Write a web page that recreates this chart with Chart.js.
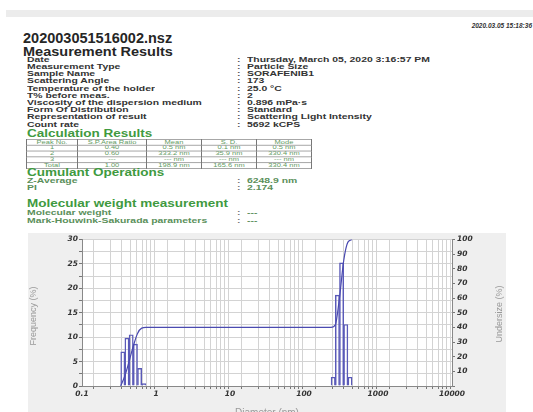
<!DOCTYPE html>
<html>
<head>
<meta charset="utf-8">
<script src="https://cdn.jsdelivr.net/npm/chart.js@4.4.1/dist/chart.umd.min.js"></script>
<style>
  body { margin: 0; width: 533px; height: 412px; overflow: hidden; position: relative; background: #fff;
         font-family: "Liberation Sans", Arial, sans-serif; }
  .band { position: absolute; left: 6px; right: 0; top: 10px; height: 7px; background: #ececec; }
  .t { position: absolute; white-space: nowrap; font-weight: bold; transform-origin: left center; }
  #stamp { position: absolute; right: 1px; top: 22px; font: italic bold 6.5px "Liberation Sans", Arial, sans-serif; color: #333; }
  #peaks { position: absolute; left: 26px; top: 139px; transform: scaleY(0.65); transform-origin: left top; }
  #peaks table { border-collapse: collapse; table-layout: fixed; width: 280px; font-size: 7.5px; color: #5f9a5f; }
  #peaks td { border: 1px solid #777; height: 8px; line-height: 8px; padding: 0; text-align: center; white-space: nowrap; overflow: hidden; }
  #panel { position: absolute; left: 28px; top: 233px; }
</style>
</head>
<body>
<div class="band"></div>
<div id="stamp">2020.03.05 15:18:36</div>
<div id="peaks"><table id="peakTable"></table></div>
<canvas id="panel" width="478" height="179"></canvas>
<script>
// report header rows
const infoLabels = ['Date', 'Measurement Type', 'Sample Name', 'Scattering Angle', 'Temperature of the holder',
  'T% before meas.', 'Viscosity of the dispersion medium', 'Form Of Distribution', 'Representation of result', 'Count rate'];
const infoValues = ['Thursday, March 05, 2020 3:16:57 PM', 'Particle Size', 'SORAFENIB1', '173', '25.0 °C',
  '2', '0.896 mPa·s', 'Standard', 'Scattering Light Intensity', '5692 kCPS'];

const tableHead = ['Peak No.', 'S.P.Area Ratio', 'Mean', 'S. D.', 'Mode'];
const tableRows = [
  ['1', '0.40', '0.5 nm', '0.1 nm', '0.5 nm'],
  ['2', '0.60', '333.2 nm', '35.9 nm', '330.4 nm'],
  ['3', '---', '--- nm', '--- nm', '--- nm'],
  ['Total', '1.00', '198.9 nm', '165.6 nm', '330.4 nm']
];

const cumulantLabels = ['Z-Average', 'PI'];
const cumulantValues = ['6248.9 nm', '2.174'];
const molLabels = ['Molecular weight', 'Mark-Houwink-Sakurada parameters'];
const molValues = ['---', '---'];

// size distribution (frequency %, left axis)
const peak1Size = [0.356, 0.405, 0.462, 0.527, 0.601, 0.685];
const peak1Freq = [7.0, 9.8, 10.5, 8.6, 3.6, 0.5];
const peak2Size = [248, 283, 322, 367, 419];
const peak2Freq = [1.8, 18.6, 25.2, 12.6, 1.8];

// cumulative undersize (%, right axis)
const undersizeSize = [0.333, 0.380, 0.433, 0.494, 0.563, 0.641, 0.731, 232, 265, 302, 344, 392, 447];
const undersizeValue = [0, 7.0, 16.8, 27.3, 35.9, 39.5, 40.0, 40.0, 41.8, 60.4, 85.6, 98.2, 100];

const xTickLabels = [0.1, 1, 10, 100, 1000, 10000];

function put(text, x, y, size, color, sy) {
  const d = document.createElement('div');
  d.className = 't';
  d.textContent = text;
  d.style.left = x + 'px';
  d.style.top = (y - size / 2) + 'px';
  d.style.fontSize = size + 'px';
  d.style.lineHeight = size + 'px';
  d.style.color = color;
  d.style.transform = 'scaleY(' + sy + ')';
  document.body.appendChild(d);
  return d;
}

const dark = '#333';
const green = '#3f9a3f';
const soft = '#5a8f5a';

put('202003051516002.nsz', 23, 38, 14.5, '#262626', 1);
put('Measurement Results', 23, 51.5, 14.5, '#262626', 0.92);

const rowY = [60.3, 67.5, 74.5, 81.5, 88.8, 96, 103.3, 110.3, 117.3, 124.7];
infoLabels.forEach(function (lab, i) {
  put(lab, 27, rowY[i], 10.4, dark, 0.68);
  put(':', 237, rowY[i], 10.4, '#555', 0.68);
  put(infoValues[i], 247, rowY[i], 10.4, dark, 0.68);
});

put('Calculation Results', 27, 134, 13.5, green, 0.75);

const tbl = document.getElementById('peakTable');
const colW = [50, 68, 54, 54, 54];
[tableHead].concat(tableRows).forEach(function (row) {
  const tr = document.createElement('tr');
  row.forEach(function (cell, j) {
    const td = document.createElement('td');
    td.textContent = cell;
    td.style.width = colW[j] + 'px';
    tr.appendChild(td);
  });
  tbl.appendChild(tr);
});

put('Cumulant Operations', 27, 173, 13.5, green, 0.75);
[180.7, 188.3].forEach(function (y, i) {
  put(cumulantLabels[i], 27, y, 10.4, soft, 0.68);
  put(':', 237, y, 10.4, '#777', 0.68);
  put(cumulantValues[i], 247, y, 10.4, soft, 0.68);
});
put('Molecular weight measurement', 27, 204, 13.5, green, 0.75);
[213.3, 220.7].forEach(function (y, i) {
  put(molLabels[i], 27, y, 10.4, soft, 0.68);
  put(':', 237, y, 10.4, '#777', 0.68);
  put(molValues[i], 247, y, 10.4, soft, 0.68);
});

// chart
const barPoints = peak1Size.map((s, i) => ({ x: s, y: peak1Freq[i] }))
  .concat(peak2Size.map((s, i) => ({ x: s, y: peak2Freq[i] })));
const linePoints = undersizeSize.map((s, i) => ({ x: s, y: undersizeValue[i] }));

const tickFont = { family: 'DejaVu Sans', size: 7.5, style: 'italic', weight: 'bold' };
const gridColor = '#d3d3d3';

const panelBg = {
  id: 'panelBg',
  beforeDraw(chart) {
    const { ctx, chartArea: a, width, height } = chart;
    ctx.save();
    ctx.fillStyle = '#efefef';
    ctx.fillRect(0, 0, width, height);
    ctx.fillStyle = '#ffffff';
    ctx.fillRect(a.left, a.top, a.right - a.left, a.bottom - a.top);
    ctx.restore();
  }
};

const axisTitles = {
  id: 'axisTitles',
  afterDraw(chart) {
    const { ctx, chartArea: a } = chart;
    ctx.save();
    ctx.fillStyle = '#999';
    ctx.font = '9px "Liberation Sans Narrow", "Liberation Sans", sans-serif';
    ctx.textAlign = 'center';
    ctx.textBaseline = 'middle';
    ctx.translate(6, 83);
    ctx.rotate(-Math.PI / 2);
    ctx.fillText('Frequency (%)', 0, 0);
    ctx.restore();

    ctx.save();
    ctx.fillStyle = '#999';
    ctx.font = '9px "Liberation Sans Narrow", "Liberation Sans", sans-serif';
    ctx.textAlign = 'center';
    ctx.textBaseline = 'middle';
    ctx.translate(471.5, 81);
    ctx.rotate(-Math.PI / 2);
    ctx.fillText('Undersize (%)', 0, 0);
    ctx.restore();

    ctx.save();
    ctx.fillStyle = '#999';
    ctx.font = '10px "Liberation Sans Narrow", "Liberation Sans", sans-serif';
    ctx.textAlign = 'center';
    ctx.textBaseline = 'top';
    ctx.fillText('Diameter (nm)', (a.left + a.right) / 2, 175);
    ctx.restore();
  }
};

new Chart(document.getElementById('panel'), {
  type: 'bar',
  data: {
    datasets: [
      {
        type: 'line',
        label: 'Undersize',
        data: linePoints,
        yAxisID: 'y2',
        borderColor: '#4a4ab0',
        borderWidth: 1.2,
        pointRadius: 0,
        cubicInterpolationMode: 'monotone',
        fill: false
      },
      {
        label: 'Frequency',
        data: barPoints,
        yAxisID: 'y',
        borderColor: '#5a5ab8',
        backgroundColor: 'rgba(255,255,255,0)',
        borderWidth: 0.8,
        barThickness: 4.2
      }
    ]
  },
  options: {
    responsive: false,
    devicePixelRatio: 1,
    animation: false,
    layout: { padding: { top: 6, left: 0, right: 0, bottom: 0 } },
    plugins: { legend: { display: false }, tooltip: { enabled: false } },
    scales: {
      x: {
        type: 'logarithmic',
        min: 0.1,
        max: 10000,
        afterBuildTicks(scale) {
          const t = [];
          for (let e = -1; e < 4; e++) {
            for (let m = 1; m < 10; m++) t.push({ value: m * Math.pow(10, e) });
          }
          t.push({ value: 10000 });
          scale.ticks = t;
        },
        afterFit(scale) { scale.height = 26; },
        grid: { color: gridColor, tickColor: '#777', tickLength: 3 },
        border: { color: '#888' },
        ticks: {
          autoSkip: false, maxRotation: 0, minRotation: 0, padding: 1,
          font: tickFont, color: '#333',
          callback(v) {
            const hit = xTickLabels.find(l => Math.abs(l - v) / l < 1e-6);
            return hit === undefined ? '' : String(hit);
          }
        }
      },
      y: {
        position: 'left',
        min: 0,
        max: 30,
        afterFit(scale) { scale.width = 54; },
        grid: { color: gridColor, tickColor: '#777', tickLength: 3 },
        border: { color: '#888' },
        ticks: {
          stepSize: 2.5, padding: 1, font: tickFont, color: '#333',
          callback(v) { return v % 5 === 0 ? String(v) : ''; }
        }
      },
      y2: {
        position: 'right',
        min: 0,
        max: 100,
        afterFit(scale) { scale.width = 54; },
        grid: { drawOnChartArea: false, tickColor: '#777', tickLength: 3 },
        border: { color: '#888' },
        ticks: {
          stepSize: 5, padding: 2, font: tickFont, color: '#333',
          callback(v) { return v % 10 === 0 && v > 0 ? String(v) : ''; }
        }
      }
    }
  },
  plugins: [panelBg, axisTitles]
});
</script>
</body>
</html>
